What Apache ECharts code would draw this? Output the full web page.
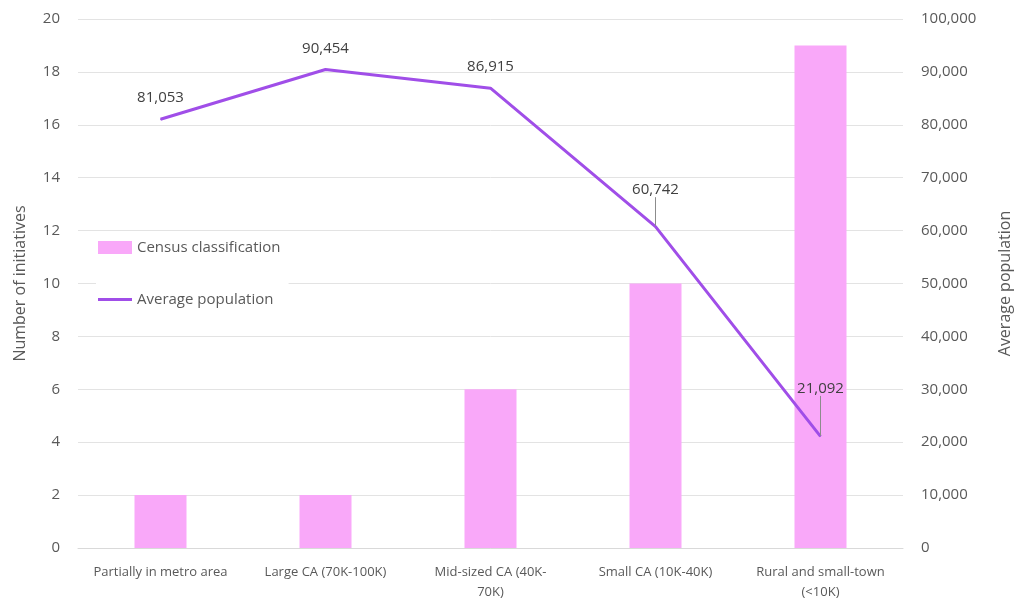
<!DOCTYPE html>
<html>
<head>
<meta charset="utf-8">
<script src="https://cdn.jsdelivr.net/npm/echarts@6/dist/echarts.min.js"></script>
<style>
  html, body { margin: 0; padding: 0; background: #fff; }
  #chart { width: 1016px; height: 602px; }
</style>
</head>
<body>
<div id="chart"></div>
<script>
// categories and values
const categories = [
  'Partially in metro area',
  'Large CA (70K-100K)',
  'Mid-sized CA (40K-\n70K)',
  'Small CA (10K-40K)',
  'Rural and small-town\n(<10K)'
];
const initiatives = [2, 2, 6, 10, 19];
const avgPopulation = [81053, 90454, 86915, 60742, 21092];
// extra upward shift for labels that sit on a leader line
const labelLift = [0, 0, 0, 16, 27];

const font = '"Open Sans", "Liberation Sans", sans-serif';
const textColor = '#595959';
const purple = '#a04ee8';

const chart = echarts.init(document.getElementById('chart'));

const fmt = (v) => v.toLocaleString('en-US');

chart.setOption({
  animation: false,
  textStyle: { fontFamily: font },
  grid: { left: 78, right: 113, top: 19, bottom: 54, outerBoundsMode: 'none' },
  legend: {
    orient: 'vertical',
    left: 96,
    top: 238,
    itemGap: 37,
    itemWidth: 34,
    itemHeight: 13,
    backgroundColor: '#fff',
    padding: [2, 8, 2, 2],
    textStyle: { color: textColor, fontSize: 15, fontFamily: font },
    data: [
      { name: 'Census classification', icon: 'rect' },
      { name: 'Average population', icon: 'path://M0,0 L34,0 L34,3 L0,3 Z', itemStyle: { color: purple } }
    ]
  },
  xAxis: {
    type: 'category',
    data: categories,
    axisLine: { lineStyle: { color: '#d9d9d9' } },
    axisTick: { show: false },
    axisLabel: { color: textColor, fontSize: 13, margin: 14, interval: 0, lineHeight: 20 }
  },
  yAxis: [
    {
      type: 'value',
      min: 0,
      max: 20,
      interval: 2,
      name: 'Number of initiatives',
      nameLocation: 'middle',
      nameGap: 50,
      nameTextStyle: { color: textColor, fontSize: 16 },
      axisLabel: { color: textColor, fontSize: 15, margin: 18 },
      splitLine: { lineStyle: { color: '#e3e3e3' } }
    },
    {
      type: 'value',
      min: 0,
      max: 100000,
      interval: 10000,
      name: 'Average population',
      nameLocation: 'middle',
      nameGap: 94,
      nameRotate: 90,
      nameTextStyle: { color: textColor, fontSize: 16 },
      axisLabel: { color: textColor, fontSize: 15, margin: 18, formatter: fmt },
      splitLine: { show: false }
    }
  ],
  series: [
    {
      name: 'Census classification',
      type: 'bar',
      data: initiatives,
      barWidth: 52,
      itemStyle: { color: '#f9a8f9' }
    },
    {
      name: 'Average population',
      type: 'line',
      yAxisIndex: 1,
      data: avgPopulation.map((v, i) => ({
        value: v,
        labelLine: { show: labelLift[i] > 0 }
      })),
      symbol: 'circle',
      symbolSize: 1,
      showSymbol: true,
      lineStyle: { color: purple, width: 3 },
      itemStyle: { color: purple },
      label: {
        show: true,
        position: 'top',
        distance: 13,
        color: '#404040',
        fontSize: 15,
        formatter: (p) => fmt(p.value)
      },
      labelLine: { lineStyle: { color: '#8c8c8c', width: 1 } },
      labelLayout: (p) => ({ dy: -labelLift[p.dataIndex] })
    }
  ]
});
</script>
</body>
</html>
